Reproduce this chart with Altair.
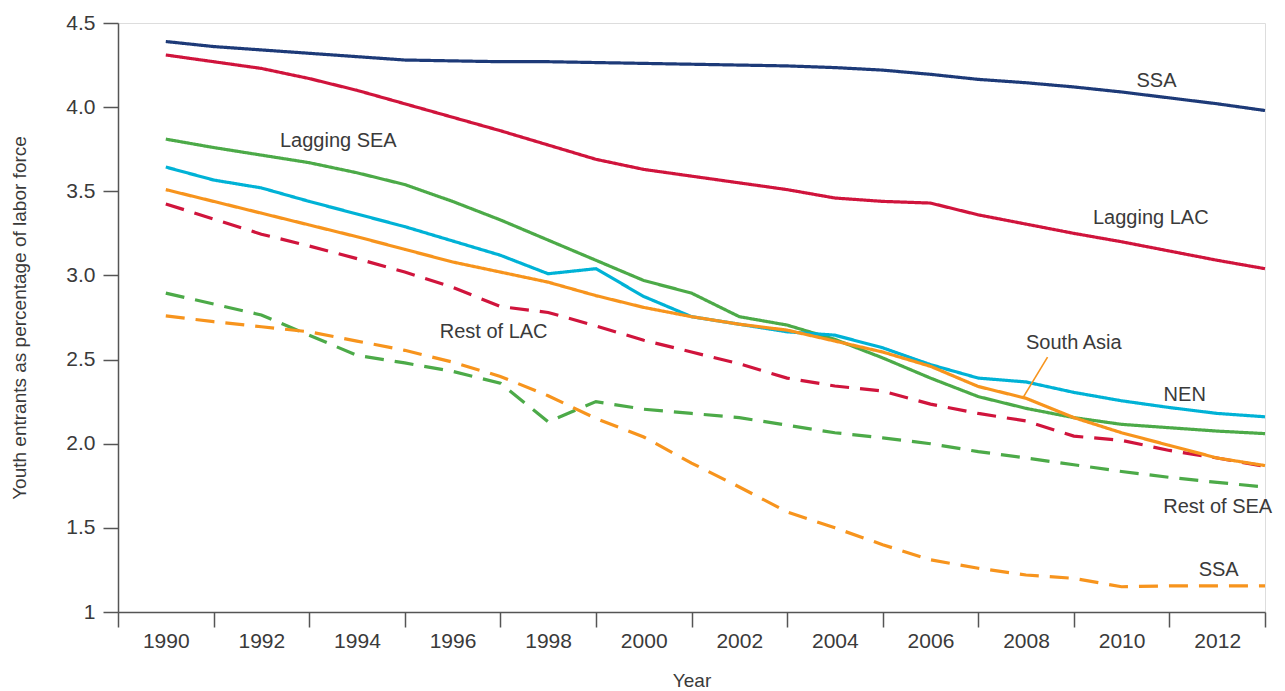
import altair as alt
import pandas as pd

# ---------------- data ----------------
years = list(range(1990, 2014))

ssa = [4.39, 4.36, 4.34, 4.32, 4.30, 4.28, 4.275, 4.27, 4.27, 4.265, 4.26, 4.255,
       4.25, 4.245, 4.235, 4.22, 4.195, 4.165, 4.145, 4.12, 4.09, 4.055, 4.02, 3.98]
lagging_lac = [4.31, 4.27, 4.23, 4.17, 4.10, 4.02, 3.94, 3.86, 3.775, 3.69, 3.63, 3.59,
               3.55, 3.51, 3.46, 3.44, 3.43, 3.36, 3.305, 3.25, 3.20, 3.145, 3.09, 3.04]
lagging_sea = [3.81, 3.76, 3.715, 3.67, 3.61, 3.54, 3.44, 3.33, 3.21, 3.09, 2.97, 2.895,
               2.755, 2.705, 2.62, 2.51, 2.39, 2.28, 2.21, 2.155, 2.115, 2.095, 2.075, 2.06]
nen = [3.644, 3.567, 3.52, 3.44, 3.365, 3.29, 3.205, 3.12, 3.01, 3.04, 2.875, 2.755,
       2.71, 2.665, 2.645, 2.57, 2.47, 2.39, 2.367, 2.305, 2.255, 2.215, 2.18, 2.16]
south_asia = [3.51, 3.44, 3.37, 3.30, 3.23, 3.155, 3.08, 3.02, 2.96, 2.88, 2.81, 2.755,
              2.71, 2.675, 2.61, 2.545, 2.46, 2.34, 2.27, 2.155, 2.065, 1.99, 1.915, 1.87]
rest_lac = [3.425, 3.335, 3.245, 3.175, 3.10, 3.02, 2.93, 2.815, 2.78, 2.70, 2.615, 2.545,
            2.475, 2.39, 2.343, 2.313, 2.235, 2.18, 2.135, 2.045, 2.02, 1.96, 1.915, 1.865]
rest_sea = [2.895, 2.83, 2.765, 2.645, 2.525, 2.48, 2.43, 2.36, 2.13, 2.25, 2.205, 2.18,
            2.155, 2.11, 2.065, 2.035, 2.0, 1.953, 1.915, 1.875, 1.835, 1.80, 1.77, 1.743]
ssa_dashed = [2.76, 2.725, 2.695, 2.665, 2.61, 2.555, 2.485, 2.40, 2.285, 2.15, 2.04, 1.885,
              1.743, 1.595, 1.50, 1.40, 1.31, 1.26, 1.22, 1.20, 1.15, 1.155, 1.155, 1.155]

series_names = ["SSA", "Lagging LAC", "Lagging SEA", "NEN", "Rest of SEA",
                "Rest of LAC", "SSA (dashed)", "South Asia"]
series_values = [ssa, lagging_lac, lagging_sea, nen, rest_sea,
                 rest_lac, ssa_dashed, south_asia]
series_colors = ["#1d3a78", "#d0143c", "#4caa48", "#00b2d6", "#4caa48",
                 "#d0143c", "#f7941d", "#f7941d"]
series_dashes = [[1, 0], [1, 0], [1, 0], [1, 0], [19, 11],
                 [19, 11], [19, 11], [1, 0]]

label_text = ["SSA", "Lagging LAC", "Lagging SEA", "Rest of LAC",
              "South Asia", "NEN", "Rest of SEA", "SSA"]
label_year = [2010.73, 2010.61, 1993.61, 1996.86, 2009.0, 2011.32, 2012.01, 2012.03]
label_value = [4.12, 3.306, 3.763, 2.628, 2.563, 2.254, 1.589, 1.214]

leader_year = [2008.45, 2007.95]
leader_value = [2.515, 2.28]

x_ticks = list(range(1989, 2014))
y_ticks = [1, 1.5, 2.0, 2.5, 3.0, 3.5, 4.0, 4.5]

# ---------------- tables ----------------
rows = []
for name, vals in zip(series_names, series_values):
    for yr, v in zip(years, vals):
        rows.append({"series": name, "year": yr, "value": v})
df = pd.DataFrame(rows)

labels_df = pd.DataFrame({"label": label_text, "year": label_year, "value": label_value})
leader_df = pd.DataFrame({"year": leader_year, "value": leader_value})

FONT = "Liberation Sans"
TXT = "#3a3a3a"
AX = "#555555"

x_enc = alt.X(
    "year:Q",
    scale=alt.Scale(domain=[1989, 2013], nice=False, zero=False),
    axis=alt.Axis(
        values=x_ticks,
        labelExpr="datum.value % 2 == 0 ? format(datum.value, 'd') : ''",
        tickOpacity={"condition": {"test": "datum.value % 2 == 1", "value": 1}, "value": 0},
        labelOverlap=False,
        labelFlush=False,
        grid=False,
        tickSize=15,
        tickWidth=1.5,
        tickColor=AX,
        domainColor=AX,
        domainWidth=1.5,
        labelFont=FONT,
        labelFontSize=21,
        labelColor=TXT,
        labelPadding=3,
        title="Year",
        titleFont=FONT,
        titleFontSize=19,
        titleFontWeight="normal",
        titleColor=TXT,
        titleBaseline="alphabetic",
        titleY=74,
    ),
)

y_enc = alt.Y(
    "value:Q",
    scale=alt.Scale(domain=[1, 4.5], nice=False, zero=False),
    axis=alt.Axis(
        values=y_ticks,
        labelExpr="datum.value == 1 ? '1' : format(datum.value, '.1f')",
        grid=False,
        tickSize=15,
        tickWidth=1.5,
        tickColor=AX,
        domainColor=AX,
        domainWidth=1.5,
        labelFont=FONT,
        labelFontSize=21,
        labelColor=TXT,
        labelPadding=8,
        title="Youth entrants as percentage of labor force",
        titleFont=FONT,
        titleFontSize=19,
        titleFontWeight="normal",
        titleColor=TXT,
        titleBaseline="alphabetic",
        titleX=-93,
    ),
)

lines = alt.Chart(df).mark_line(strokeWidth=3.2).encode(
    x=x_enc,
    y=y_enc,
    color=alt.Color("series:N", scale=alt.Scale(domain=series_names, range=series_colors), legend=None),
    strokeDash=alt.StrokeDash("series:N", scale=alt.Scale(domain=series_names, range=series_dashes), legend=None),
    detail="series:N",
)

leader = alt.Chart(leader_df).mark_line(color="#f7941d", strokeWidth=1.6).encode(x=x_enc, y=y_enc)

labels = alt.Chart(labels_df).mark_text(
    font=FONT, fontSize=20, color=TXT, align="center", baseline="alphabetic"
).encode(x=x_enc, y=y_enc, text="label:N")

chart = alt.layer(lines, leader, labels).properties(
    width=1147,
    height=589,
    autosize=alt.AutoSizeParams(type="none"),
    padding={"left": 110, "top": 15, "right": 12, "bottom": 78},
).configure_view(stroke=None).configure(background="white")

chart.save("out.html", embed_options={"renderer": "svg", "actions": False})
